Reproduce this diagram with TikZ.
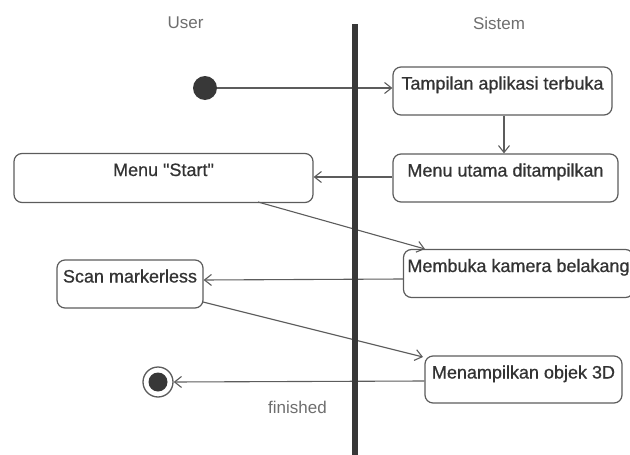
\documentclass[tikz,border=0pt]{standalone}
\usepackage{fontspec}
\setmainfont{Liberation Sans}
\newfontfamily\boxfont[FakeBold=0.7]{Liberation Sans}
\usetikzlibrary{arrows.meta,calc}
\definecolor{ln}{HTML}{5C5C5C}
\definecolor{tx}{HTML}{333333}
\definecolor{lb}{HTML}{6E6E6E}
\definecolor{barc}{HTML}{383838}
\tikzset{
  act/.style={draw=ln, line width=1.2pt, rounded corners=8pt, inner xsep=3pt, inner ysep=4pt,
    text=tx, font=\boxfont\fontsize{18}{20}\selectfont, text height=18.5pt, anchor=center},
  flow/.style={draw=ln, line width=1.1pt, -{Straight Barb[length=7pt,width=11pt,line width=1.1pt]}},
  lane/.style={text=lb, font=\fontsize{17}{19}\selectfont},
}
\begin{document}
\begin{tikzpicture}[x=1pt,y=-1pt]
\useasboundingbox (0,0) rectangle (630,455);
% lane labels
\node[lane] (user) at (185.5,23) {User};
\node[lane] (sis) at (499,23) {Sistem};
% start / end
\node[circle, fill=barc, minimum size=24pt, inner sep=0pt] (init) at (205,88) {};
\node[circle, draw=ln, line width=1.3pt, fill=white, minimum size=30pt, inner sep=0pt] (fin) at (158,382) {};
\node[circle, fill=barc, minimum size=19pt, inner sep=0pt] (finin) at (158,382) {};
% activities
\node[act, minimum width=219pt, text depth=21.5pt] (b1) at (502.5,91) {Tampilan aplikasi terbuka};
\node[act, minimum width=225pt, text depth=21.5pt] (b2) at (505.5,178) {Menu utama ditampilkan};
\node[act, minimum width=299pt, text depth=22.5pt] (ms) at (163.5,178) {Menu \symbol{34}Start\symbol{34}};
\node[act, minimum width=230pt, text depth=21.5pt] (b3) at (518.5,273.5) {Membuka kamera belakang};
\node[act, minimum width=146pt, text depth=21.5pt] (sc) at (130,284) {Scan markerless};
\node[act, minimum width=197pt, text depth=20.5pt] (b4) at (523.5,379.5) {Menampilkan objek 3D};
% connector end points
\coordinate (msout) at (258,202);
\coordinate (b3in) at (425,249);
\coordinate (scout) at (203,302);
\coordinate (b4in) at (423,357);
% flows
\draw[flow] (init) -- (init -| b1.west);
\draw[flow] (b1.south -| 504,0) -- (b2.north -| 504,0);
\draw[flow] (b2.west |- 0,177) -- (ms.east |- 0,177);
\draw[flow] (msout) -- (b3in);
\draw[flow] (b3.west |- 0,279) -- (sc.east |- 0,280);
\draw[flow] (scout) -- (b4in);
\draw[flow] (b4.west |- 0,381) -- (fin.east);
\node[lane] (fl) at (297.5,407) {finished};
% swimlane divider
\fill[barc] (351.5,24) rectangle (357.5,455);
\end{tikzpicture}
\end{document}
